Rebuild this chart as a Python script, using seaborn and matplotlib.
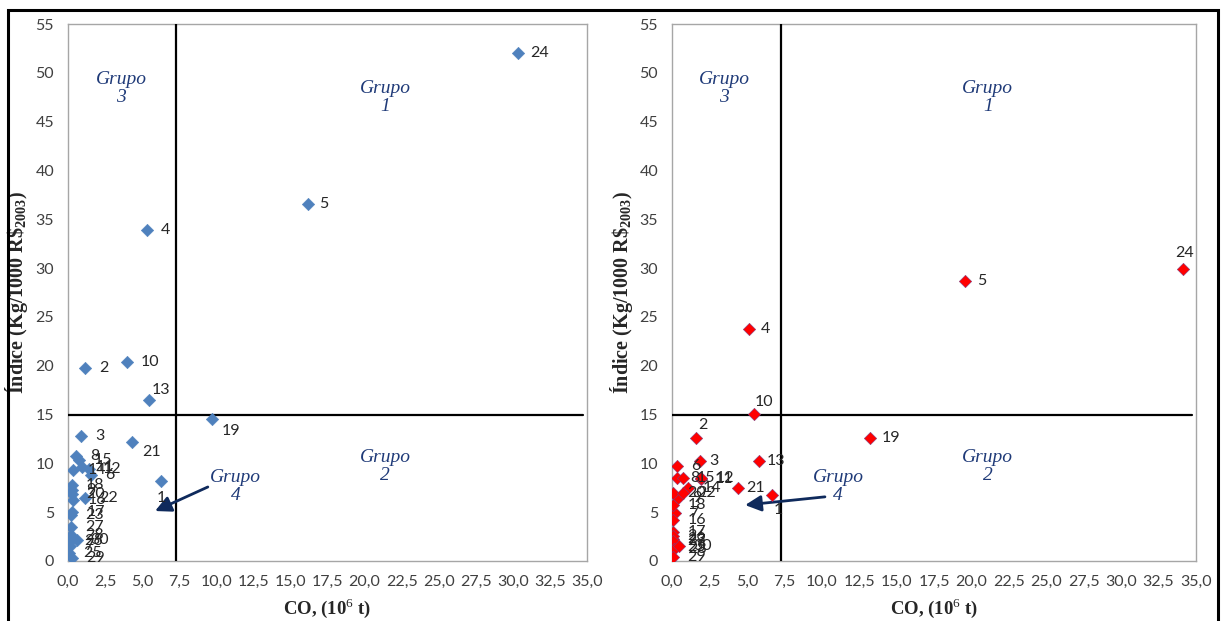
import matplotlib
matplotlib.use("Agg")
import matplotlib.pyplot as plt
import matplotlib.patches as mpatches
import seaborn as sns
import pandas as pd
import numpy as np

# ---------------- data ----------------
labels = [str(i) for i in range(1, 31)]

left_x = [6.27, 1.15, 0.88, 5.33, 16.2, 1.55, 0.13, 0.54, 0.25, 3.98,
          0.92, 1.40, 5.46, 0.36, 0.76, 0.36, 0.29, 0.25, 9.7, 0.30,
          4.3, 1.15, 0.20, 30.35, 0.10, 0.13, 0.20, 0.20, 0.25, 0.58]
left_y = [8.2, 19.8, 12.8, 33.9, 36.6, 8.8, 1.5, 10.8, 7.3, 20.4,
          9.66, 9.4, 16.5, 9.3, 10.35, 6.25, 5.05, 7.8, 14.5, 6.9,
          12.2, 6.5, 4.7, 52.0, 0.8, 2.0, 3.5, 2.66, 0.3, 2.15]

right_x = [6.68, 1.6, 1.87, 5.14, 19.6, 0.35, 0.20, 0.31, 0.42, 5.48,
           1.92, 1.95, 5.8, 1.09, 0.71, 0.09, 0.09, 0.09, 13.2, 0.09,
           4.4, 0.75, 0.10, 34.1, 0.10, 0.05, 0.10, 0.12, 0.09, 0.49]
right_y = [6.8, 12.6, 10.25, 23.8, 28.7, 9.77, 4.9, 8.47, 6.42, 15.06,
           8.37, 8.5, 10.25, 7.45, 8.47, 4.2, 3.0, 5.74, 12.6, 6.94,
           7.5, 6.94, 2.3, 29.9, 1.47, 2.6, 2.0, 1.2, 0.44, 1.54]

x_ticks = [0, 2.5, 5, 7.5, 10, 12.5, 15, 17.5, 20, 22.5, 25, 27.5, 30, 32.5, 35]
x_ticklabels = ["0,0", "2,5", "5,0", "7,5", "10,0", "12,5", "15,0", "17,5",
                "20,0", "22,5", "25,0", "27,5", "30,0", "32,5", "35,0"]
y_ticks = list(range(0, 60, 5))

x_split = 7.3
y_split = 15

# label offsets (pixels) for specific points
left_offsets = {"13": (3, 10, "left"), "1": (0, -17, "center"),
                "19": (10, -12, "left"), "21": (10, -10, "left"),
                "24": (12, 0, "left"), "5": (11, 0, "left")}
right_offsets = {"24": (2, 16, "center"), "10": (1, 12, "left"),
                 "2": (2, 13, "left"), "1": (2, -15, "left"),
                 "5": (12, 0, "left"), "19": (12, 0, "left"),
                 "4": (12, 0, "left"), "13": (8, 0, "left"),
                 "21": (8, 0, "left"), "3": (9, 0, "left")}

groups_left = [("Grupo\n3", 3.6, 48.4), ("Grupo\n1", 21.4, 47.5),
               ("Grupo\n2", 21.4, 9.7), ("Grupo\n4", 11.3, 7.6)]
groups_right = [("Grupo\n3", 3.5, 48.4), ("Grupo\n1", 21.1, 47.5),
                ("Grupo\n2", 21.1, 9.7), ("Grupo\n4", 11.1, 7.6)]
arrow_left = ((9.6, 7.7), (5.7, 5.0))
arrow_right = ((10.4, 6.6), (4.7, 5.7))

# ---------------- style ----------------
sns.set_style("white")
plt.rcParams['font.family'] = ['Lato', 'DejaVu Sans']
plt.rcParams['mathtext.fontset'] = 'custom'
plt.rcParams['mathtext.rm'] = 'Liberation Serif'
plt.rcParams['mathtext.bf'] = 'Liberation Serif:bold'

W, H = 1222, 621
fig = plt.figure(figsize=(W / 100, H / 100), dpi=100)

ax1 = fig.add_axes([68 / W, 60 / H, 519 / W, 537 / H])
ax2 = fig.add_axes([672 / W, 60 / H, 524 / W, 537 / H])

tick_gray = "#7F7F7F"
frame_gray = "#A6A6A6"
navy = "#1F3A78"


def draw(ax, xs, ys, color, edge, offsets, groups, arrow):
    df = pd.DataFrame({"CO": xs, "Indice": ys, "lab": labels})
    sns.scatterplot(data=df, x="CO", y="Indice", ax=ax, marker="D", s=40,
                    color=color, edgecolor=edge, linewidth=0.4, zorder=5)
    ax.set_xlim(0, 35)
    ax.set_ylim(0, 55)
    ax.set_xticks(x_ticks)
    ax.set_xticklabels(x_ticklabels)
    ax.set_yticks(y_ticks)
    ax.tick_params(axis="both", colors=tick_gray, labelsize=11.5, length=4,
                   width=0.8, direction="out", pad=6)
    ax.tick_params(axis="both", labelcolor="#404040")
    for sp in ax.spines.values():
        sp.set_color(frame_gray)
        sp.set_linewidth(1.0)
    ax.set_xlabel("CO, (10$^{6}$ t)", fontsize=13.5, fontweight="bold",
                  family="Liberation Serif", labelpad=2)
    ax.set_ylabel("Índice (Kg/1000 R\\$$_{\\mathregular{2003}}$)", fontsize=14.5,
                  fontweight="bold", family="Liberation Serif", labelpad=8)
    # split lines
    ax.plot([x_split, x_split], [0, 55], color="black", lw=1.6, zorder=3)
    ax.plot([0, 34.7], [y_split, y_split], color="black", lw=1.6, zorder=3)
    # point labels
    for _, r in df.iterrows():
        dx, dy, ha = offsets.get(r["lab"], (14, 0, "left"))
        ax.annotate(r["lab"], (r["CO"], r["Indice"]),
                    xytext=(dx * 0.72, dy * 0.72), textcoords="offset points",
                    ha=ha, va="center", fontsize=11.5, color="#262626", zorder=6)
    for txt, gx, gy in groups:
        ax.text(gx, gy, txt, ha="center", va="center", fontsize=14,
                style="italic", family="Liberation Serif", color=navy,
                linespacing=1.1)
    ax.annotate("", xy=arrow[1], xytext=arrow[0],
                arrowprops=dict(arrowstyle="-|>", color="#0F2A5C", lw=2.0,
                                mutation_scale=24))


draw(ax1, left_x, left_y, "#4F81BD", "#4F81BD", left_offsets, groups_left, arrow_left)
draw(ax2, right_x, right_y, "#FF0000", "#7F3F7F", right_offsets, groups_right, arrow_right)

ax1.xaxis.set_label_coords(0.5, -0.066)
ax2.xaxis.set_label_coords(0.5, -0.066)
ax1.yaxis.set_label_coords((30 - 68) / 519, 0.5)
ax2.yaxis.set_label_coords((635 - 672) / 524, 0.5)

# outer black border
fig.add_artist(mpatches.Rectangle((8 / W, -0.02), (1218 - 8) / W, 1 - 10 / H + 0.02,
                                  transform=fig.transFigure, fill=False,
                                  edgecolor="black", lw=2.2))

fig.savefig("out.png", dpi=100)
